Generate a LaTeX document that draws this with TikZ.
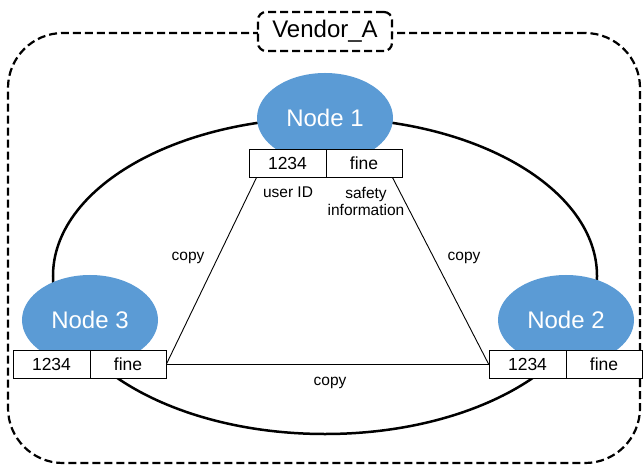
\documentclass[tikz,border=0pt]{standalone}
\usepackage{fontspec}
\setmainfont{Liberation Sans}
\usetikzlibrary{shapes.geometric,calc}
\definecolor{nodeblue}{RGB}{91,155,213}
\definecolor{divgray}{RGB}{110,110,110}
\begin{document}
\begin{tikzpicture}[x=1bp,y=-1bp,
  container/.style={draw,line width=2.2bp,dash pattern=on 8bp off 4bp,rounded corners=55bp,minimum width=632bp,minimum height=430bp,inner sep=0},
  titlebox/.style={draw,fill=white,line width=2.2bp,dash pattern=on 8bp off 4bp,rounded corners=8bp,minimum width=134bp,minimum height=39bp,inner sep=0,font=\fontsize{24bp}{28bp}\selectfont},
  ring/.style={draw,ellipse,line width=2.5bp,minimum width=544bp,minimum height=316bp,inner sep=0},
  peer/.style={ellipse,fill=nodeblue,minimum width=136bp,minimum height=90bp,inner sep=0,text=white,font=\fontsize{24bp}{28bp}\selectfont},
  cell/.style={draw,fill=white,line width=0.9bp,minimum height=28bp,inner sep=0,font=\fontsize{17.5bp}{20bp}\selectfont},
  link/.style={line width=0.9bp},
  lbl/.style={font=\fontsize{15.5bp}{17bp}\selectfont,inner sep=0,align=center}
]
\useasboundingbox (0,0) rectangle (643,467);
\node[container] (vendor) at (324,248) {};
\node[titlebox] (title) at (325,31.5) {Vendor\_A};
\node[ring] (ring) at (325,276) {};
% peers
\node[peer] (n1) at (325,118) {Node 1};
\node[peer] (n3) at (90,320) {Node 3};
\node[peer] (n2) at (566,320) {Node 2};
% tables
\node[cell,minimum width=77bp] (n1id) at (287.5,163) {1234};
\node[cell,minimum width=76bp] (n1sf) at (364,163) {fine};
\node[cell,minimum width=77bp] (n3id) at (51.5,364) {1234};
\node[cell,minimum width=76bp] (n3sf) at (128,364) {fine};
\node[cell,minimum width=77bp] (n2id) at (527.5,364) {1234};
\node[cell,minimum width=76bp] (n2sf) at (604,364) {fine};
% links
\coordinate (l1) at ($(n1id.south west)+(8,0)$);
\coordinate (r1) at ($(n1sf.south east)+(-10,0)$);
\draw[link] (l1) -- (n3sf.east);
\draw[link] (r1) -- (n2id.west);
\draw[link] (n3sf.east) -- (n2id.west);
% labels
\node[lbl] (uid) at (288,192) {user ID};
\node[lbl] (safe) at (366,201) {safety\\information};
\node[lbl] (c1) at (188,258) {copy};
\node[lbl] (c2) at (464,258) {copy};
\node[lbl] (c3) at (330,383) {copy};
\end{tikzpicture}
\end{document}
